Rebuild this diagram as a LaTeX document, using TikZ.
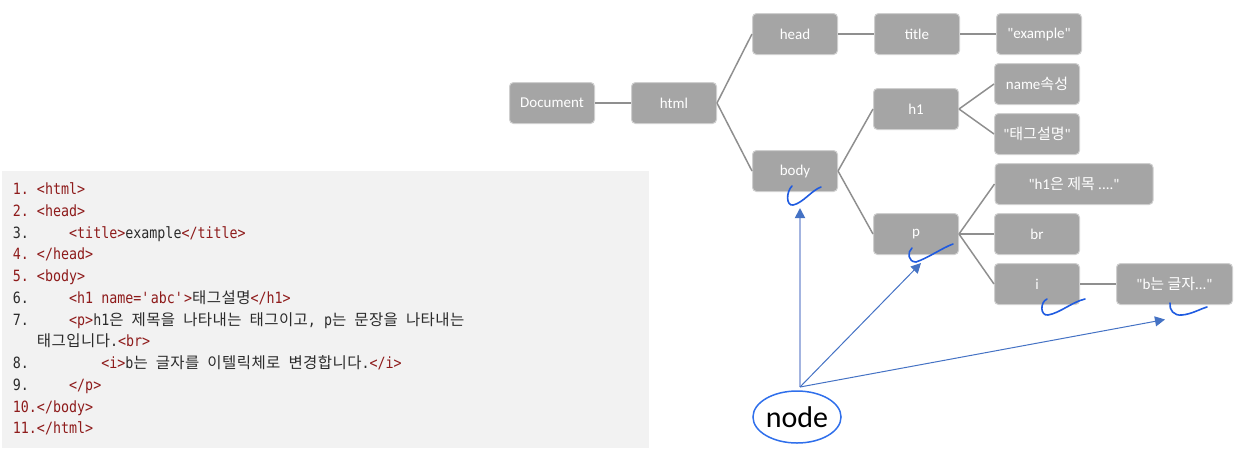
\documentclass[tikz,border=0pt]{standalone}
\usepackage{fontspec}
\setmainfont{Carlito}[Ligatures=TeXOff]
\newfontfamily\krfont{Noto Sans CJK KR}[Ligatures=TeXOff]
\newfontfamily\krcode{Noto Sans CJK KR}[LetterSpace=2.8]
\newfontfamily\codefont{DejaVu Sans Mono}[FakeStretch=0.86]
\usetikzlibrary{arrows.meta,positioning,shapes.geometric}
\definecolor{BoxFill}{HTML}{A5A5A5}
\definecolor{BoxLine}{HTML}{CFCFCF}
\definecolor{Branch}{HTML}{8F8F8F}
\definecolor{Panel}{HTML}{F2F2F2}
\definecolor{Tag}{HTML}{8E1B1B}
\definecolor{CodeInk}{HTML}{2B2B2B}
\definecolor{Pointer}{HTML}{4472C4}
\definecolor{PointerPale}{HTML}{A3B4E0}
\definecolor{Scribble}{HTML}{1F5BE0}
\definecolor{OvalLine}{HTML}{2F6FEB}
\newcommand\tagtxt[1]{\textcolor{Tag}{#1}}
\newcommand\hangul[1]{{\krfont #1}}
\newcommand\cjkcode[1]{{\krcode #1}}
\tikzset{treebox/.style={draw=BoxLine,line width=0.5pt,fill=BoxFill,rounded corners=2pt,
    text=white,minimum width=42.5pt,minimum height=20.5pt,inner sep=0pt,
    font=\fontsize{7.5}{9}\selectfont},
  branch/.style={draw=Branch,line width=0.75pt},
  pointer/.style={-{Triangle[length=5pt,width=5pt,color=Pointer]},draw=Pointer,line width=0.5pt},
  scribble/.style={draw=Scribble,line width=0.8pt,line cap=round},
  codeline/.style={anchor=base west,inner sep=0pt,text=CodeInk,
    font=\codefont\fontsize{7.75}{9}\selectfont}}

\begin{document}
\begin{tikzpicture}[x=0.5pt,y=-0.5pt,node distance=18pt]
  \useasboundingbox (0,0) rectangle (1250,452);
  % code listing
  \fill[Panel] (2,171) rectangle (649,448);
  \foreach \num/\row/\ink in {1/0/Tag,2/1/Tag,3/2/CodeInk,4/3/Tag,5/4/Tag,6/5/CodeInk,
      7/6/CodeInk,8/8/CodeInk,9/9/CodeInk,10/10/Tag,11/11/Tag}
    \node[codeline,text=\ink] (n\num) at (12.5,{194.5+21.75*\row}) {\num.};
  \node[codeline] (c1) at (36.6,194.5) {\tagtxt{<html>}};
  \node[codeline] (c2) at (36.6,216.25) {\tagtxt{<head>}};
  \node[codeline] (c3) at (68.8,238) {\tagtxt{<title>}example\tagtxt{</title>}};
  \node[codeline] (c4) at (36.6,259.75) {\tagtxt{</head>}};
  \node[codeline] (c5) at (36.6,281.5) {\tagtxt{<body>}};
  \node[codeline] (c6) at (68.8,303.25) {\tagtxt{<h1 name=\textquotesingle abc\textquotesingle>}\cjkcode{태그설명}\tagtxt{</h1>}};
  \node[codeline] (c7) at (68.8,325) {\tagtxt{<p>}h1\cjkcode{은} \cjkcode{제목을} \cjkcode{나타내는} \cjkcode{태그이고}, p\cjkcode{는} \cjkcode{문장을} \cjkcode{나타내는}};
  \node[codeline] (c7b) at (36.6,346.75) {\cjkcode{태그입니다}.\tagtxt{<br>}};
  \node[codeline] (c8) at (101,368.5) {\tagtxt{<i>}b\cjkcode{는} \cjkcode{글자를} \cjkcode{이텔릭체로} \cjkcode{변경합니다}.\tagtxt{</i>}};
  \node[codeline] (c9) at (68.8,390.25) {\tagtxt{</p>}};
  \node[codeline] (c10) at (36.6,412) {\tagtxt{</body>}};
  \node[codeline] (c11) at (36.6,433.75) {\tagtxt{</html>}};
  % DOM tree
  \node[treebox] (doc) at (552,103) {Document};
  \node[treebox,right=of doc] (html) {html};
  \node[treebox] (head) at (795,34) {head};
  \node[treebox] (body) at (795,171) {body};
  \node[treebox,right=of head] (title) {title};
  \node[treebox,right=of title] (extext) {\textquotedbl example\textquotedbl};
  \node[treebox] (h1) at (916,109) {h1};
  \node[treebox] (nameattr) at (1037,84) {name\hangul{속성}};
  \node[treebox] (h1text) at (1037,134) {\textquotedbl\hangul{태그설명}\textquotedbl};
  \node[treebox] (p) at (916,234) {p};
  \node[treebox,minimum width=79pt] (ptext) at (1074,184) {\textquotedbl h1\hangul{은 제목} ....\textquotedbl};
  \node[treebox] (br) at (1037,234) {br};
  \node[treebox] (i) at (1037,284) {i};
  \node[treebox,minimum width=58pt,right=of i] (itext) {\textquotedbl b\hangul{는 글자}...\textquotedbl};
  \draw[branch] (doc)--(html);
  \draw[branch] (html.east)--(head.west);
  \draw[branch] (html.east)--(body.west);
  \draw[branch] (head)--(title); \draw[branch] (title)--(extext);
  \draw[branch] (body.east)--(h1.west);
  \draw[branch] (body.east)--(p.west);
  \draw[branch] (h1.east)--(nameattr.west);
  \draw[branch] (h1.east)--(h1text.west);
  \draw[branch] (p.east)--(ptext.west);
  \draw[branch] (p.east)--(br.west);
  \draw[branch] (p.east)--(i.west);
  \draw[branch] (i)--(itext);
  % hand marks
  \draw[scribble] (792,186) .. controls (786,192) and (786,206) .. (793,205)
    .. controls (803,203) and (812,190) .. (821,187);
  \draw[scribble] (912,248) .. controls (907,252) and (908,262) .. (916,262)
    .. controls (928,258) and (942,248) .. (953,244);
  \draw[scribble] (1047,299) .. controls (1040,302) and (1040,316) .. (1048,315)
    .. controls (1060,313) and (1072,302) .. (1085,299);
  \draw[scribble] (1170,303) .. controls (1169,310) and (1174,316) .. (1182,315)
    .. controls (1192,314) and (1200,309) .. (1207,307);
  % node label and pointers
  \node[ellipse,draw=OvalLine,line width=0.75pt,minimum width=43.5pt,minimum height=26pt,
    inner sep=0pt,font=\fontsize{15}{18}\selectfont] (nodelabel) at (797,417) {node};
  \coordinate (hub) at (800,387);
  \coordinate (bodytip) at (800,208);
  \coordinate (ptip) at (921,263);
  \coordinate (itexttip) at (1165,319.5);
  \draw[pointer,draw=PointerPale,line width=0.9pt] (hub)--(bodytip);
  \draw[pointer] (hub)--(ptip);
  \draw[pointer] (hub)--(itexttip);
\end{tikzpicture}
\end{document}
